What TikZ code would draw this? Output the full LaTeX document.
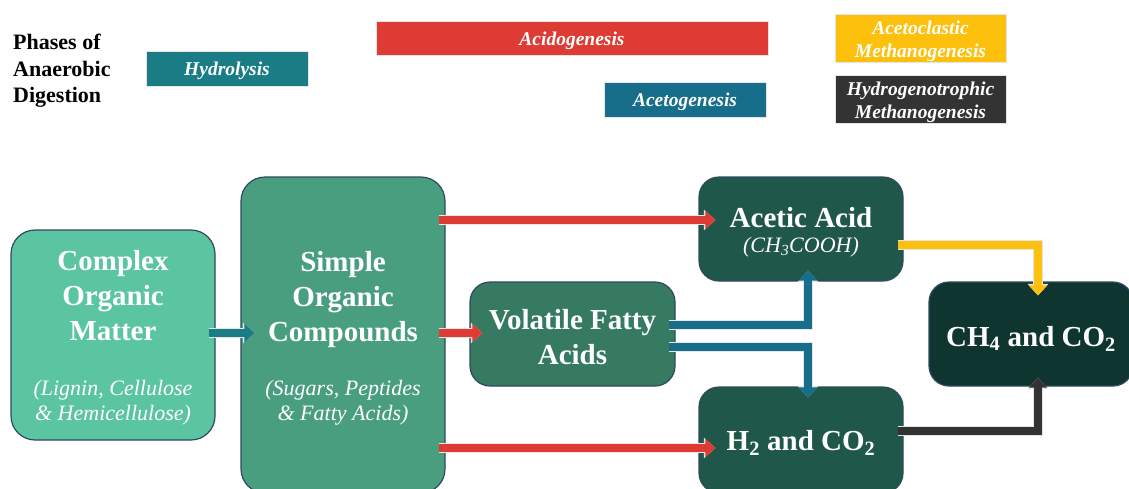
\documentclass[tikz,border=0pt]{standalone}
\usepackage{fontspec}
\setmainfont{Liberation Serif}
\usetikzlibrary{arrows.meta}
\definecolor{cComplex}{HTML}{5BC5A1}
\definecolor{cSimple}{HTML}{4A9E80}
\definecolor{cVfa}{HTML}{367A62}
\definecolor{cAcid}{HTML}{1F574B}
\definecolor{cCh}{HTML}{0E3530}
\definecolor{cEdge}{HTML}{2F4A5C}
\definecolor{cRed}{HTML}{DE3B35}
\definecolor{cTeal}{HTML}{1A7D85}
\definecolor{cBlue}{HTML}{166E8A}
\definecolor{cYel}{HTML}{FDC00C}
\definecolor{cDark}{HTML}{333333}
\tikzset{
  mainbox/.style={draw=cEdge, line width=1.2pt, rounded corners=24pt, inner sep=0pt},
  legbox/.style={draw=white!80!gray, line width=0.8pt, inner sep=0pt},
  legtext/.style={text=white, inner sep=0pt, align=center,
    font=\bfseries\itshape\fontsize{19.5}{23}\selectfont},
  maintext/.style={text=white, inner sep=0pt, align=center, font=\bfseries\fontsize{29}{35}\selectfont},
  subtext/.style={text=white, inner sep=0pt, align=center, font=\itshape\fontsize{22}{25}\selectfont},
  blockarrow/.style={line width=8pt, line join=miter,
    preaction={draw=white!80!gray, line width=9.6pt, -{Triangle[width=20pt,length=11.5pt]}},
    -{Triangle[width=18pt,length=10pt]}}
}
\begin{document}
\begin{tikzpicture}[x=1pt,y=-1pt]
\useasboundingbox (0,0) rectangle (1129,488);
% legend
\node[anchor=west, inner sep=0pt, align=left, font=\bfseries\fontsize{22}{26.5}\selectfont] (title) at (13,71) {Phases of\\Anaerobic\\Digestion};
\node[legbox, fill=cTeal, minimum width=162pt, minimum height=35pt] (hyd) at (227,68.5) {};
\node[legbox, fill=cRed, minimum width=392pt, minimum height=34pt] (acid) at (572,38) {};
\node[legbox, fill=cBlue, minimum width=162pt, minimum height=35pt] (aceto) at (685,99.5) {};
\node[legbox, fill=cYel, minimum width=171pt, minimum height=48pt] (acl) at (920.5,38) {};
\node[legbox, fill=cDark, minimum width=171pt, minimum height=48pt] (hyt) at (920.5,99) {};
\node[legtext] (hydT) at (227,71) {Hydrolysis};
\node[legtext] (acidT) at (572,41) {Acidogenesis};
\node[legtext] (acetoT) at (685,102) {Acetogenesis};
\node[legtext] (aclT) at (920.5,41) {Acetoclastic\\Methanogenesis};
\node[legtext] (hytT) at (920.5,102) {Hydrogenotrophic\\Methanogenesis};
% main boxes
\node[mainbox, fill=cComplex, minimum width=204pt, minimum height=210pt] (complex) at (113,335) {};
\node[mainbox, fill=cSimple, minimum width=204pt, minimum height=316pt] (simple) at (343,335) {};
\node[mainbox, fill=cVfa, rounded corners=20pt, minimum width=205pt, minimum height=104pt] (vfa) at (572.5,334) {};
\node[mainbox, fill=cAcid, rounded corners=20pt, minimum width=204pt, minimum height=104pt] (acetic) at (801,229) {};
\node[mainbox, fill=cAcid, rounded corners=20pt, minimum width=204pt, minimum height=106pt] (h2) at (801,440) {};
\node[mainbox, fill=cCh, rounded corners=20pt, minimum width=204pt, minimum height=104pt] (ch4) at (1031,334) {};
% texts
\node[maintext] (complexT) at (113,296) {Complex\\Organic\\Matter};
\node[subtext] (complexS) at (113,402.5) {(Lignin, Cellulose\\\& Hemicellulose)};
\node[maintext] (simpleT) at (343,299.5) {Simple\\Organic\\Compounds};
\node[subtext] (simpleS) at (343,402.5) {(Sugars, Peptides\\\& Fatty Acids)};
\node[maintext] (vfaT) at (572.5,337.5) {Volatile Fatty\\Acids};
\node[maintext] (aceticT) at (801,218) {Acetic Acid};
\node[subtext] (aceticS) at (801,247.5) {(CH\textsubscript{3}COOH)};
\node[maintext] (h2T) at (801,443) {H\textsubscript{2} and CO\textsubscript{2}};
\node[maintext] (ch4T) at (1031,338.5) {CH\textsubscript{4} and CO\textsubscript{2}};
% arrows
\draw[blockarrow, cTeal] ([xshift=-7pt,yshift=2pt]complex.east) -- ([xshift=14pt,yshift=2pt]complex.east -| simple.west);
\draw[blockarrow, cRed] ([xshift=-7pt,yshift=2pt]simple.east) -- ([xshift=13pt,yshift=1pt]vfa.west);
\draw[blockarrow, cRed] ([xshift=-7pt,yshift=9pt]simple.east |- acetic.west) -- ([xshift=17pt,yshift=9pt]acetic.west);
\draw[blockarrow, cRed] ([xshift=-7pt,yshift=-8pt]simple.east |- h2.west) -- ([xshift=17pt,yshift=-8pt]h2.west);
\draw[blockarrow, cBlue] ([xshift=-7pt,yshift=9pt]vfa.east) -| ([xshift=7pt,yshift=11pt]acetic.south);
\draw[blockarrow, cBlue] ([xshift=-7pt,yshift=-13pt]vfa.east) -| ([xshift=7pt,yshift=-11pt]h2.north);
\draw[blockarrow, cYel] ([xshift=-6pt,yshift=-16pt]acetic.east) -| ([xshift=7pt,yshift=-14pt]ch4.north);
\draw[blockarrow, cDark] ([xshift=-6pt,yshift=9pt]h2.east) -| ([xshift=7pt,yshift=9pt]ch4.south);
\end{tikzpicture}
\end{document}
